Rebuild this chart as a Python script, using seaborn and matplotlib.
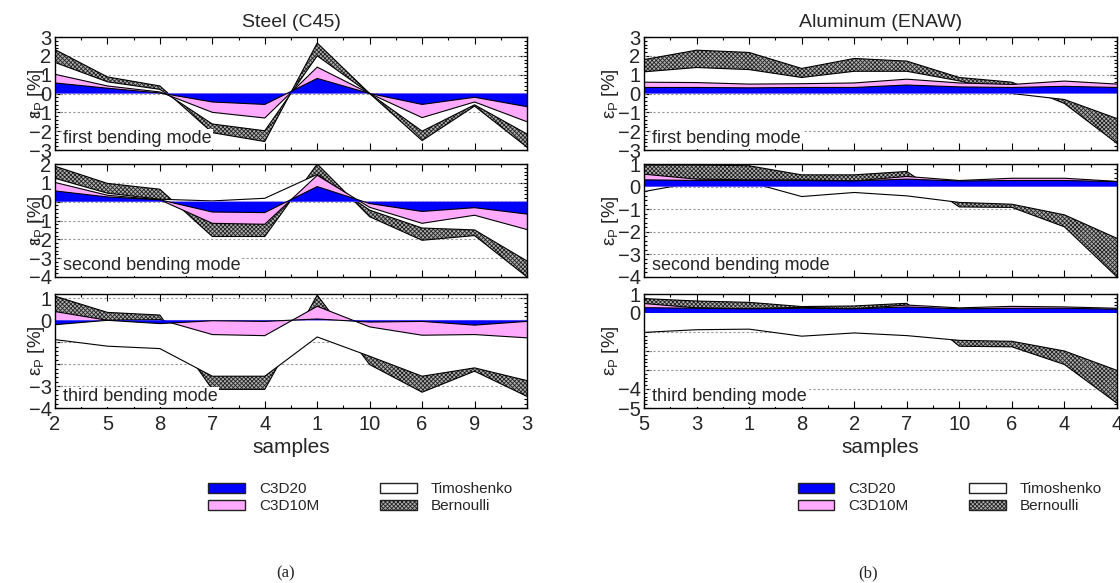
import numpy as np
import pandas as pd
import matplotlib
matplotlib.use("Agg")
import matplotlib.pyplot as plt
from matplotlib.patches import Patch
from matplotlib.ticker import AutoMinorLocator
import seaborn as sns

# sample order on the x axis
steel_samples = ["2", "5", "8", "7", "4", "1", "10", "6", "9", "3"]
alu_samples = ["5", "3", "1", "8", "2", "7", "10", "6", "4", "4"]

# Steel (C45) - eps_P [%]
steel1_c3d20 = [0.56, 0.28, 0.03, -0.45, -0.58, 0.8, 0.0, -0.58, -0.2, -0.7]
steel1_c3d10m = [1.02, 0.4, 0.08, -1.0, -1.3, 1.4, 0.0, -1.28, -0.45, -1.5]
steel1_timo = [1.65, 0.62, 0.22, -1.62, -1.98, 2.0, 0.0, -2.0, -0.6, -2.15]
steel1_bern = [2.33, 0.88, 0.4, -2.08, -2.55, 2.68, 0.0, -2.5, -0.67, -2.85]

steel2_c3d20 = [0.57, 0.25, 0.1, -0.55, -0.58, 0.8, -0.1, -0.52, -0.32, -0.66]
steel2_c3d10m = [1.02, 0.34, 0.1, -1.15, -1.2, 1.4, -0.3, -1.15, -0.72, -1.48]
steel2_timo = [1.24, 0.45, 0.13, 0.04, 0.18, 1.45, -0.45, -1.4, -1.5, -3.15]
steel2_bern = [1.88, 0.97, 0.66, -1.85, -1.85, 2.0, -0.8, -2.05, -1.8, -4.0]

steel3_c3d20 = [-0.2, 0.0, -0.15, -0.02, -0.05, 0.06, -0.08, -0.05, -0.22, -0.05]
steel3_c3d10m = [0.4, 0.0, 0.03, -0.65, -0.7, 0.64, -0.3, -0.68, -0.65, -0.8]
steel3_timo = [-0.88, -1.18, -1.29, -2.55, -2.55, -0.76, -1.64, -2.55, -2.17, -2.75]
steel3_bern = [1.1, 0.36, 0.24, -3.15, -3.15, 1.15, -2.02, -3.28, -2.32, -3.47]

# Aluminum (ENAW) - eps_P [%]
alu1_c3d20 = [0.32, 0.32, 0.3, 0.32, 0.32, 0.45, 0.35, 0.32, 0.38, 0.32]
alu1_c3d10m = [0.6, 0.58, 0.5, 0.52, 0.56, 0.76, 0.56, 0.48, 0.66, 0.5]
alu1_timo = [1.15, 1.38, 1.27, 0.85, 1.18, 1.18, 0.67, 0.0, -0.32, -1.33]
alu1_bern = [1.8, 2.3, 2.18, 1.33, 1.86, 1.72, 0.85, 0.6, -0.53, -2.65]

alu2_c3d20 = [0.3, 0.27, 0.27, 0.27, 0.25, 0.33, 0.25, 0.27, 0.27, 0.22]
alu2_c3d10m = [0.55, 0.33, 0.3, 0.3, 0.25, 0.45, 0.27, 0.37, 0.37, 0.23]
alu2_timo = [-0.22, 0.2, 0.2, -0.44, -0.26, -0.41, -0.7, -0.78, -1.25, -2.29]
alu2_bern = [0.96, 0.96, 0.92, 0.52, 0.52, 0.67, -0.9, -0.92, -1.78, -4.0]

alu3_c3d20 = [0.28, 0.25, 0.22, 0.25, 0.22, 0.32, 0.22, 0.25, 0.25, 0.2]
alu3_c3d10m = [0.5, 0.27, 0.22, 0.3, 0.22, 0.42, 0.27, 0.35, 0.32, 0.25]
alu3_timo = [-1.02, -0.88, -0.85, -1.22, -1.05, -1.19, -1.44, -1.49, -2.0, -3.02]
alu3_bern = [0.76, 0.63, 0.56, 0.34, 0.37, 0.51, -1.75, -1.78, -2.71, -4.75]

# y ticks and their labels (some labels left out as in the original)
steel1_yticks = [3, 2, 1, 0, -1, -2, -3]
steel1_ylabels = ["3", "2", "1", "0", "−1", "−2", "−3"]
steel2_yticks = [2, 1, 0, -1, -2, -3, -4]
steel2_ylabels = ["2", "1", "0", "−1", "−2", "−3", "−4"]
steel3_yticks = [1, 0, -1, -2, -3, -4]
steel3_ylabels = ["1", "0", "", "", "−3", "−4"]
alu1_yticks = [3, 2, 1, 0, -1, -2, -3]
alu1_ylabels = ["3", "2", "1", "0", "−1", "−2", "−3"]
alu2_yticks = [1, 0, -1, -2, -3, -4]
alu2_ylabels = ["1", "0", "−1", "−2", "−3", "−4"]
alu3_yticks = [1, 0, -1, -2, -3, -4, -5]
alu3_ylabels = ["1", "0", "", "", "", "−4", "−5"]

mode_names = ["first bending mode", "second bending mode", "third bending mode"]

sns.set_style("ticks")
plt.rcParams["font.family"] = ["Liberation Sans", "DejaVu Sans"]
plt.rcParams["mathtext.fontset"] = "custom"
plt.rcParams["mathtext.rm"] = "Liberation Sans"
plt.rcParams["mathtext.it"] = "Liberation Sans:italic"
plt.rcParams["hatch.linewidth"] = 0.6

BLUE = "#0000ff"
PINK = "#ffaaff"
HATCH_FACE = "#b0b0b0"
HATCH_EDGE = "#222222"
HATCH = "xxxxxxxx"

fig = plt.figure(figsize=(11.2, 5.83), dpi=100)

W, H = 1120, 583
cols = [(55, 527), (644, 1117)]
rows = [(37, 150), (164, 277), (294, 408)]

panels = [
    # col, row, labels, series, ylim, yticks, ylabels
    (0, 0, steel_samples, [steel1_bern, steel1_timo, steel1_c3d10m, steel1_c3d20], (-3, 3), steel1_yticks, steel1_ylabels),
    (0, 1, steel_samples, [steel2_bern, steel2_timo, steel2_c3d10m, steel2_c3d20], (-4, 2), steel2_yticks, steel2_ylabels),
    (0, 2, steel_samples, [steel3_bern, steel3_timo, steel3_c3d10m, steel3_c3d20], (-4, 1.2), steel3_yticks, steel3_ylabels),
    (1, 0, alu_samples, [alu1_bern, alu1_timo, alu1_c3d10m, alu1_c3d20], (-3, 3), alu1_yticks, alu1_ylabels),
    (1, 1, alu_samples, [alu2_bern, alu2_timo, alu2_c3d10m, alu2_c3d20], (-4, 1), alu2_yticks, alu2_ylabels),
    (1, 2, alu_samples, [alu3_bern, alu3_timo, alu3_c3d10m, alu3_c3d20], (-5, 1), alu3_yticks, alu3_ylabels),
]

layer_style = [
    dict(facecolor=HATCH_FACE, edgecolor=HATCH_EDGE, hatch=HATCH, linewidth=0),
    dict(facecolor="white", edgecolor="none", linewidth=0),
    dict(facecolor=PINK, edgecolor="none", linewidth=0),
    dict(facecolor=BLUE, edgecolor="none", linewidth=0),
]

for c, r, labels, series, ylim, yticks, ylabels in panels:
    x0, x1 = cols[c]
    top, bot = rows[r]
    ax = fig.add_axes([x0 / W, 1 - bot / H, (x1 - x0) / W, (bot - top) / H])
    pos = np.arange(len(labels))

    for t in yticks:
        if ylim[0] < t < ylim[1]:
            ax.axhline(t, color="#999999", lw=0.8, ls=(0, (2, 2)), zorder=1)

    for i, (vals, st) in enumerate(zip(series, layer_style)):
        ax.fill_between(pos, 0, vals, zorder=2 + 2 * i, **st)
        df = pd.DataFrame({"x": pos, "y": vals})
        sns.lineplot(data=df, x="x", y="y", color="black", lw=0.8, ax=ax,
                     zorder=3 + 2 * i, legend=False, sort=False, estimator=None)

    ax.set_xlim(0, len(labels) - 1)
    ax.set_ylim(*ylim)
    ax.set_xticks(pos)
    ax.xaxis.set_minor_locator(AutoMinorLocator(2))
    ax.set_yticks(yticks)
    ax.set_yticklabels(ylabels)
    ax.yaxis.set_minor_locator(AutoMinorLocator(5))
    ax.tick_params(which="both", direction="in", top=True, right=True,
                   labelsize=14.5, width=0.8, color="black")
    ax.tick_params(which="major", length=5)
    ax.tick_params(which="minor", length=2.5)
    ax.tick_params(axis="y", pad=2.5)
    ax.tick_params(axis="x", pad=5)
    for sp in ax.spines.values():
        sp.set_visible(True)
        sp.set_linewidth(1.0)
        sp.set_color("black")
        sp.set_zorder(20)

    ax.set_ylabel("ε$_\\mathrm{P}$ [%]", fontsize=13.5)
    ax.yaxis.set_label_coords(-0.017 if c == 0 else -0.049, 0.5)

    if r == 2:
        ax.set_xticklabels(labels)
        ax.set_xlabel("samples", fontsize=15, labelpad=3)
    else:
        ax.set_xticklabels([])
        ax.set_xlabel("")
    if r == 0:
        ax.set_title("Steel (C45)" if c == 0 else "Aluminum (ENAW)", fontsize=14, pad=7)

    ax.text(0.017, 0.06, mode_names[r], transform=ax.transAxes, fontsize=13,
            ha="left", va="baseline", zorder=15,
            bbox=dict(facecolor="white", edgecolor="none", pad=1.0))

handles = [
    Patch(facecolor=BLUE, edgecolor=HATCH_EDGE, lw=1),
    Patch(facecolor=PINK, edgecolor=HATCH_EDGE, lw=1),
    Patch(facecolor="white", edgecolor=HATCH_EDGE, lw=1),
    Patch(facecolor=HATCH_FACE, edgecolor=HATCH_EDGE, hatch=HATCH, lw=1),
]
names = ["C3D20", "C3D10M", "Timoshenko", "Bernoulli"]
for cx in (0.322, 0.848):
    fig.legend(handles, names, loc="center", bbox_to_anchor=(cx, 0.146), ncol=2,
               frameon=False, fontsize=11, handlelength=2.4, handleheight=0.65,
               handletextpad=0.9, columnspacing=4.0, labelspacing=0.2)

fig.text(0.255, 0.017, "(a)", ha="center", va="center", fontsize=12, family="Liberation Serif")
fig.text(0.775, 0.017, "(b)", ha="center", va="center", fontsize=12, family="Liberation Serif")

fig.savefig("out.png", dpi=100)
